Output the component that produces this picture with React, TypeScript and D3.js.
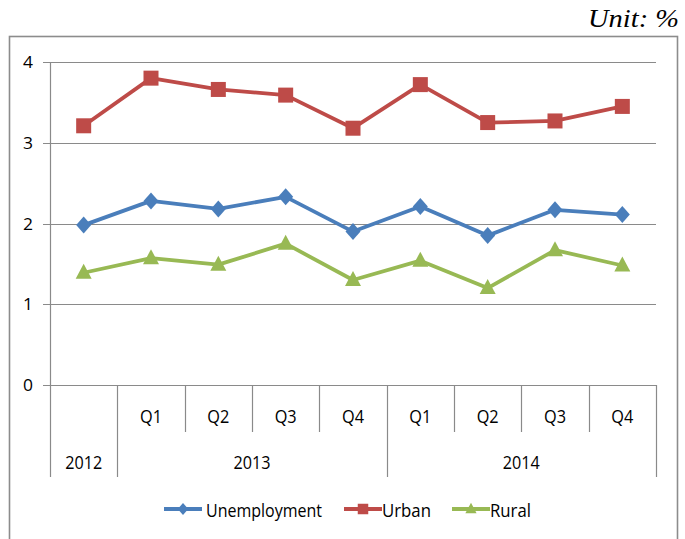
import React from "react";
import * as d3 from "d3";

const periods = ["2012", "2013Q1", "2013Q2", "2013Q3", "2013Q4", "2014Q1", "2014Q2", "2014Q3", "2014Q4"];
const quarterLabels = ["", "Q1", "Q2", "Q3", "Q4", "Q1", "Q2", "Q3", "Q4"];
const yearLabels = ["2012", "2013", "2014"];
const yearSpans = [1, 4, 4];
const unemployment = [1.98, 2.28, 2.18, 2.33, 1.9, 2.21, 1.85, 2.17, 2.11];
const urban = [3.21, 3.8, 3.66, 3.59, 3.18, 3.72, 3.25, 3.27, 3.45];
const rural = [1.39, 1.57, 1.49, 1.75, 1.3, 1.54, 1.2, 1.67, 1.48];
const yTicks = [0, 1, 2, 3, 4];
const seriesNames = ["Unemployment", "Urban", "Rural"];

const colors = ["#4A7EBB", "#BE4B48", "#98B954"];
const font = "'Open Sans', 'DejaVu Sans', sans-serif";

function Marker({ kind, x, y, color, s = 1 }: { kind: number; x: number; y: number; color: string; s?: number }) {
  if (kind === 0) {
    return <path d={`M${x},${y - 8.5 * s} L${x + 7.5 * s},${y} L${x},${y + 8.5 * s} L${x - 7.5 * s},${y} Z`} fill={color} />;
  }
  if (kind === 1) {
    return <rect x={x - 7.5 * s} y={y - 7.5 * s} width={15 * s} height={15 * s} fill={color} />;
  }
  return <path d={`M${x},${y - 9 * s} L${x + 8 * s},${y + 6 * s} L${x - 8 * s},${y + 6 * s} Z`} fill={color} />;
}

export default function App() {
  const x = d3.scaleBand<string>().domain(periods).range([50, 656]).padding(0);
  const y = d3.scaleLinear().domain([0, 4]).range([385, 62]);
  const series = [unemployment, urban, rural];
  const line = d3
    .line<number>()
    .x((_, i) => (x(periods[i]) as number) + x.bandwidth() / 2)
    .y((v) => y(v));

  const yearBounds: number[] = [];
  let acc = 0;
  yearBounds.push(acc);
  yearSpans.forEach((s) => {
    acc += s;
    yearBounds.push(acc);
  });
  const boundX = (i: number) => (i < periods.length ? (x(periods[i]) as number) : x.range()[1]);

  const legendItems = [
    { lx: 164, tx: 206, w: 116 },
    { lx: 344, tx: 382, w: 49 },
    { lx: 452, tx: 490, w: 41 },
  ];

  return (
    <svg width={685} height={539} style={{ position: "absolute", left: 0, top: 0 }}>
      <rect x={0} y={0} width={685} height={539} fill="#fff" />
      <text x={679} y={27} textAnchor="end" fontFamily="'Liberation Serif', 'Times New Roman', serif" fontStyle="italic" fontSize={25} fill="#000" textLength={91} lengthAdjust="spacingAndGlyphs">
        Unit: %
      </text>
      <rect x={9.5} y={36.5} width={668} height={520} fill="none" stroke="#8c8c8c" strokeWidth={1.6} />

      {yTicks.map((t) => (
        <g key={t}>
          <line x1={43} x2={656} y1={Math.round(y(t)) + 0.5} y2={Math.round(y(t)) + 0.5} stroke="#8a8a8a" strokeWidth={1.2} />
          <text x={33} y={y(t) + 6} textAnchor="end" fontFamily={font} fontSize={17} fill="#000" textLength={10} lengthAdjust="spacingAndGlyphs">
            {t}
          </text>
        </g>
      ))}
      <line x1={50.5} x2={50.5} y1={62} y2={385} stroke="#8a8a8a" strokeWidth={1.2} />

      {d3.range(periods.length + 1).map((i) => {
        const isYear = yearBounds.includes(i);
        const bx = Math.round(boundX(i)) + 0.5;
        return <line key={i} x1={bx} x2={bx} y1={385} y2={isYear ? 477 : 432} stroke="#8a8a8a" strokeWidth={1.2} />;
      })}
      {quarterLabels.map((q, i) =>
        q ? (
          <text key={i} x={(x(periods[i]) as number) + x.bandwidth() / 2} y={423} textAnchor="middle" fontFamily={font} fontSize={18} fill="#000" textLength={22} lengthAdjust="spacingAndGlyphs">
            {q}
          </text>
        ) : null
      )}
      {yearLabels.map((yl, j) => {
        const cx = (boundX(yearBounds[j]) + boundX(yearBounds[j + 1])) / 2;
        return (
          <text key={yl} x={cx} y={469} textAnchor="middle" fontFamily={font} fontSize={18} fill="#000" textLength={37} lengthAdjust="spacingAndGlyphs">
            {yl}
          </text>
        );
      })}

      {series.map((s, k) => (
        <g key={k}>
          <path d={line(s) as string} fill="none" stroke={colors[k]} strokeWidth={3.8} strokeLinejoin="round" />
          {s.map((v, i) => (
            <Marker key={i} kind={k} x={(x(periods[i]) as number) + x.bandwidth() / 2} y={y(v)} color={colors[k]} />
          ))}
        </g>
      ))}

      {legendItems.map((it, k) => (
        <g key={k}>
          <line x1={it.lx} x2={it.lx + 38} y1={509} y2={509} stroke={colors[k]} strokeWidth={3.8} />
          <Marker kind={k} x={it.lx + 19} y={509} color={colors[k]} s={0.7} />
          <text x={it.tx} y={517} fontFamily={font} fontSize={18} fill="#000" textLength={it.w} lengthAdjust="spacingAndGlyphs">
            {seriesNames[k]}
          </text>
        </g>
      ))}
    </svg>
  );
}
